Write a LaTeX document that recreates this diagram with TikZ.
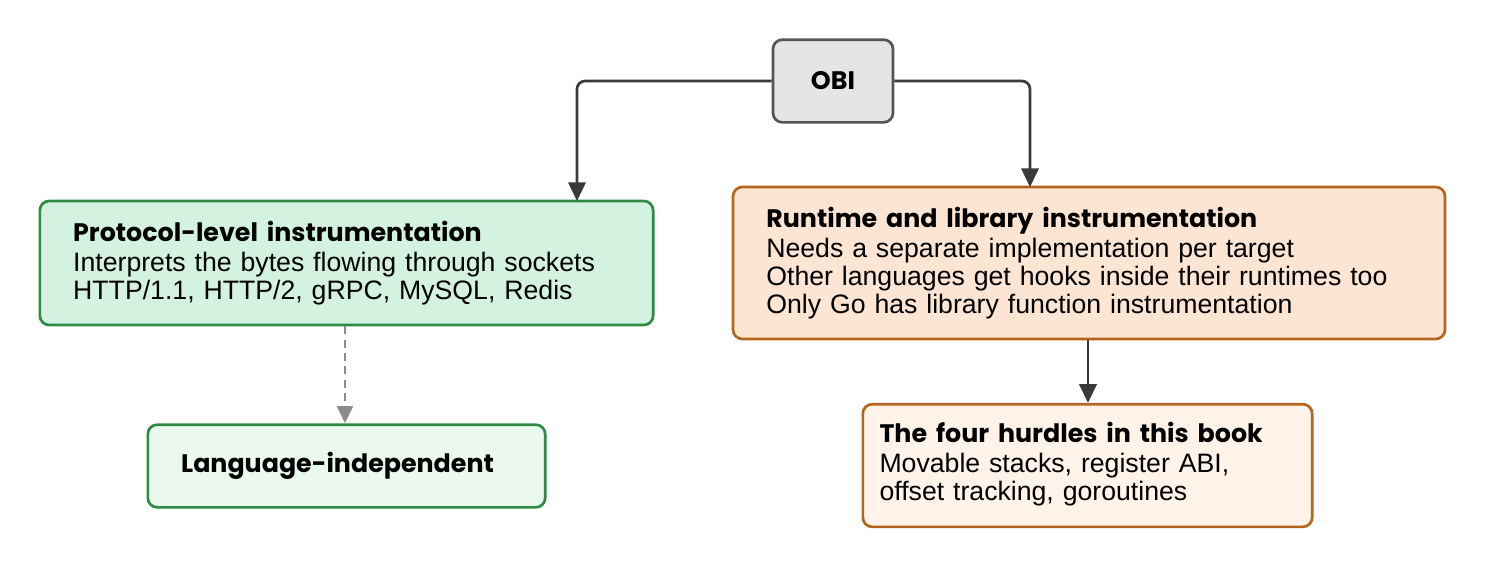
\documentclass[tikz,border=0pt]{standalone}
\usepackage{fontspec}
\setmainfont{Liberation Sans}
\newfontfamily\titlefont{Poppins}[UprightFont=* SemiBold, BoldFont=* Bold]
\usetikzlibrary{arrows.meta, positioning}
\definecolor{obifill}{HTML}{E5E5E5}
\definecolor{obiline}{HTML}{555555}
\definecolor{greenfill}{HTML}{D3F2E0}
\definecolor{greenlight}{HTML}{EAF8EE}
\definecolor{greenline}{HTML}{2E8B45}
\definecolor{orangefill}{HTML}{FDE5D3}
\definecolor{orangelight}{HTML}{FFF3EA}
\definecolor{orangeline}{HTML}{B5651D}
\definecolor{arrowgray}{HTML}{3A3A3A}
\tikzset{
    box/.style={rectangle, draw, line width=2pt, rounded corners=7pt, align=left, font=\fontsize{20}{21}\selectfont, inner xsep=0pt},
    greenbox/.style={box, draw=greenline, fill=greenfill},
    orangebox/.style={box, draw=orangeline, fill=orangefill},
    arrow/.style={-{Triangle[length=14pt,width=13pt]}, line width=2pt, draw=arrowgray, rounded corners=6pt},
    dashedarrow/.style={-{Triangle[length=13pt,width=12pt]}, line width=1.8pt, draw=gray!90, dash pattern=on 6pt off 4pt},
}
\newcommand{\hd}[1]{{\titlefont\bfseries\fontsize{19}{20}\selectfont #1}}
\begin{document}
\begin{tikzpicture}[x=0.75pt, y=0.75pt]
    \useasboundingbox (0,0) rectangle (1485,-569);
    % Top node
    \node[box, draw=obiline, fill=obifill, minimum width=90pt, minimum height=62pt, align=center] (obi) at (833,-81) {\hd{OBI}};

    % Left branch
    \node[greenbox, text width=410pt, minimum width=460pt, minimum height=93pt] (protocol) at (346.5,-263)
        {\hd{Protocol-level instrumentation}\\[1pt]Interprets the bytes flowing through sockets\\HTTP/1.1, HTTP/2, gRPC, MySQL, Redis};
    \node[greenbox, fill=greenlight, text width=248pt, minimum width=298pt, minimum height=62pt] (langind) at (346.5,-466)
        {\hd{Language-independent}};

    % Right branch
    \node[orangebox, text width=484pt, minimum width=534pt, minimum height=114pt] (runtime) at (1089,-263)
        {\hd{Runtime and library instrumentation}\\[1pt]Needs a separate implementation per target\\Other languages get hooks inside their runtimes too\\Only Go has library function instrumentation};
    \node[orangebox, fill=orangelight, text width=310pt, minimum width=337pt, minimum height=92pt] (hurdles) at (1087.5,-465.5)
        {\hspace*{-1pt}\begin{tabular}{@{}l@{}}\hd{The four hurdles in this book}\\[1pt]Movable stacks, register ABI,\\offset tracking, goroutines\end{tabular}};

    % Arrows
    \draw[arrow] (obi.west) -| (577,-201);
    \draw[arrow] (obi.east) -| (1030,-187);
    \draw[dashedarrow] (protocol.south -| 345,0) -- (langind.north -| 345,0);
    \draw[arrow] (runtime.south -| 1088,0) -- (hurdles.north -| 1088,0);
\end{tikzpicture}
\end{document}
